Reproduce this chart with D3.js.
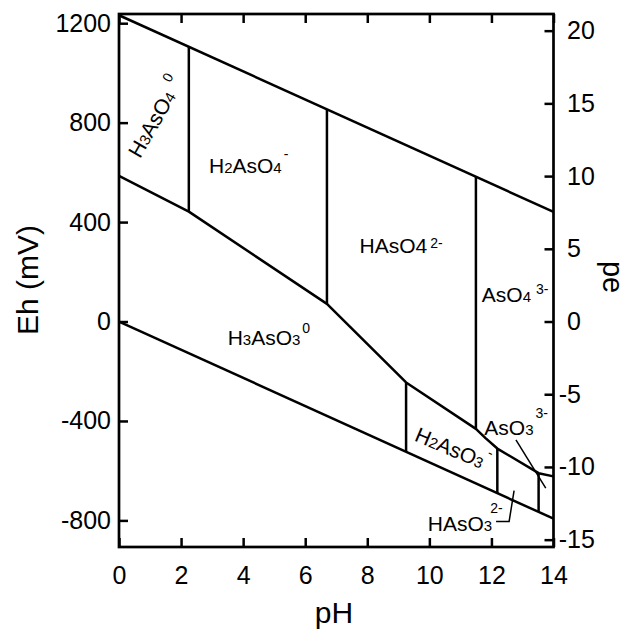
<!DOCTYPE html>
<html><head><meta charset="utf-8">
<script src="https://cdn.jsdelivr.net/npm/d3@7"></script>
<style>
body{margin:0;background:#fff}
svg{display:block}
text{font-family:"Liberation Sans",Arial,Helvetica,sans-serif;fill:#000}
</style>
</head><body><svg id="chart" width="629" height="635"></svg>
<script>
// ---- axis ticks ----
const pHTicks = [0, 2, 4, 6, 8, 10, 12, 14];
const ehTicks = [-800, -400, 0, 400, 800, 1200];
const peTicks = [-15, -10, -5, 0, 5, 10, 15, 20];
const ehDomain = [-907, 1237];
const pHDomain = [0, 14];
const mVperPe = 58.5;

// ---- water stability limits (pH, Eh mV) ----
const upperWaterPH = [0, 14];
const upperWaterEh = [1232, 441];
const lowerWaterPH = [0, 14];
const lowerWaterEh = [0, -793];

// ---- As(V) / As(III) boundary ----
const redoxPH = [0, 2.25, 6.7, 9.25, 11.5, 11.81, 12.19, 13.52, 14];
const redoxEh = [586, 442, 71, -245, -432, -469, -511, -610, -623];

// ---- vertical acid-base boundaries ----
const vertPH    = [2.25, 6.7, 11.5, 9.25, 12.19, 13.52];
const vertTopEh = [1105, 853, 582, -245, -511, -610];
const vertBotEh = [442, 71, -432, -524, -690, -766];

// ---- species labels ("_" marks a small digit) ----
const labelText   = ["H_3AsO_4", "H_2AsO_4", "HAsO4", "AsO_4", "H_3AsO_3", "H_2AsO_3", "AsO_3", "HAsO_3"];
const labelCharge = ["0", "-", "2-", "3-", "0", "-", "3-", "2-"];
const labelPH     = [0.675, 2.90, 7.75, 11.69, 3.50, 9.49, 11.77, 9.95];
const labelEh     = [653, 599, 276, 80, -94, -478, -456, -844];
const labelAngle  = [-60, 0, 0, 0, 0, 23, 0, 0];
const chargeRise  = [12, 14, 5, 8, 12, 14, 17, 18];
const chargeShift = [8, 2, 3, 5, 2, 1, 2, -2];

// ---- leader lines ----
const leaderAsO3PH  = [12.79, 13.75];
const leaderAsO3Eh  = [-476, -670];
const leaderHAsO3PH = [12.73, 12.57, 12.15];
const leaderHAsO3Eh = [-680, -804, -804];

const svg = d3.select("#chart");
const m = {l: 119, r: 553.5, t: 14, b: 547};
const x = d3.scaleLinear().domain(pHDomain).range([m.l, m.r]);
const y = d3.scaleLinear().domain(ehDomain).range([m.b, m.t]);
const pe = d3.scaleLinear().domain(ehDomain.map(v => v / mVperPe)).range([m.b, m.t]);
const fmt = d => String(d);
const TICKFONT = 25;

function styleAxis(g) {
  g.select(".domain").remove();
  g.attr("font-family", null).attr("font-size", null);
  g.selectAll(".tick line").attr("stroke", "#000").attr("stroke-width", 2.5);
  g.selectAll(".tick text").attr("font-size", TICKFONT).attr("fill", "#000");
}

svg.append("g").attr("transform", `translate(${m.l},0)`)
  .call(d3.axisLeft(y).tickValues(ehTicks).tickSize(-9).tickPadding(8).tickFormat(fmt))
  .call(styleAxis);

svg.append("g").attr("transform", `translate(0,${m.b})`)
  .call(d3.axisBottom(x).tickValues(pHTicks).tickSize(-9).tickPadding(19).tickFormat(fmt))
  .call(styleAxis);

svg.append("g").attr("transform", `translate(0,${m.t})`)
  .call(d3.axisTop(x).tickValues(pHTicks).tickSize(-9).tickFormat(""))
  .call(styleAxis);

svg.append("g").attr("transform", `translate(${m.r},0)`)
  .call(d3.axisRight(pe).tickValues(peTicks).tickSize(-9).tickPadding(13.5).tickFormat(fmt))
  .call(styleAxis)
  .call(g => g.selectAll(".tick text").attr("dx", d => d < 0 ? "-0.333em" : 0));

// frame
svg.append("rect")
  .attr("x", x(pHDomain[0])).attr("y", y(ehDomain[1]))
  .attr("width", x(pHDomain[1]) - x(pHDomain[0]))
  .attr("height", y(ehDomain[0]) - y(ehDomain[1]))
  .attr("fill", "none").attr("stroke", "#000").attr("stroke-width", 2.7);

const line = d3.line().x(d => x(d[0])).y(d => y(d[1]));
const bounds = svg.append("g").attr("fill", "none").attr("stroke", "#000")
  .attr("stroke-width", 2.5).attr("stroke-linejoin", "round");

bounds.append("path").attr("d", line(d3.zip(upperWaterPH, upperWaterEh)));
bounds.append("path").attr("d", line(d3.zip(lowerWaterPH, lowerWaterEh)));
bounds.append("path").attr("d", line(d3.zip(redoxPH, redoxEh)));
vertPH.forEach((p, i) => {
  bounds.append("path").attr("d", line([[p, vertTopEh[i]], [p, vertBotEh[i]]]));
});

const leaders = svg.append("g").attr("fill", "none").attr("stroke", "#000").attr("stroke-width", 1.5);
leaders.append("path").attr("d", line(d3.zip(leaderAsO3PH, leaderAsO3Eh)));
leaders.append("path").attr("d", line(d3.zip(leaderHAsO3PH, leaderHAsO3Eh)));

// species labels
labelText.forEach((t, i) => {
  const txt = svg.append("text")
    .attr("transform", `translate(${x(labelPH[i])},${y(labelEh[i])}) rotate(${labelAngle[i]})`)
    .attr("font-size", 21);
  const parts = t.split(/(_\d)/).filter(s => s.length);
  parts.forEach(s => {
    if (s[0] === "_") txt.append("tspan").attr("font-size", 15).text(s.slice(1));
    else txt.append("tspan").text(s);
  });
  txt.append("tspan").attr("font-size", 14)
    .attr("dx", chargeShift[i]).attr("dy", -chargeRise[i])
    .text(labelCharge[i]);
});

// axis titles
svg.append("text").attr("transform", "translate(37.5,280) rotate(-90)")
  .attr("text-anchor", "middle").attr("font-size", 30).text("Eh (mV)");
svg.append("text").attr("transform", "translate(603,277) rotate(90)")
  .attr("text-anchor", "middle").attr("font-size", 29).text("pe");
svg.append("text").attr("x", 334).attr("y", 623)
  .attr("text-anchor", "middle").attr("font-size", 30).text("pH");
</script>
</body></html>
